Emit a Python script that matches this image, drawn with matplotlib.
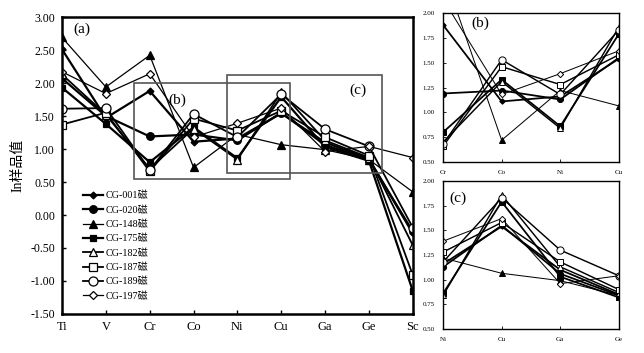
import matplotlib
matplotlib.use("Agg")
import matplotlib.pyplot as plt
from matplotlib.patches import Rectangle
import numpy as np

plt.rcParams['font.family'] = ['Liberation Serif', 'Noto Sans CJK SC']
plt.rcParams['mathtext.fontset'] = 'stix'

elements = ["Ti", "V", "Cr", "Co", "Ni", "Cu", "Ga", "Ge", "Sc"]
names = ["CG-001磁", "CG-020磁", "CG-148磁", "CG-175磁", "CG-182磁", "CG-187磁", "CG-189磁", "CG-197磁"]

cg001 = [2.51, 1.47, 1.88, 1.11, 1.16, 1.54, 1.10, 0.85, -0.28]
cg020 = [2.07, 1.50, 1.19, 1.22, 1.13, 1.55, 1.06, 0.84, -0.25]
cg148 = [2.69, 1.94, 2.42, 0.72, 1.22, 1.065, 0.99, 0.84, 0.35]
cg175 = [1.93, 1.38, 0.80, 1.33, 0.86, 1.79, 1.03, 0.82, -1.15]
cg182 = [2.13, 1.52, 0.70, 1.31, 0.84, 1.86, 1.13, 0.87, -0.46]
cg187 = [1.37, 1.55, 0.66, 1.46, 1.28, 1.58, 1.18, 0.90, -0.91]
cg189 = [1.61, 1.62, 0.68, 1.53, 1.18, 1.83, 1.30, 1.04, -0.19]
cg197 = [2.17, 1.84, 2.14, 1.18, 1.39, 1.62, 0.96, 1.04, 0.87]

series = [cg001, cg020, cg148, cg175, cg182, cg187, cg189, cg197]
styles = [
    dict(marker='D', ms=3.5, mfc='black', lw=1.6),
    dict(marker='o', ms=5.5, mfc='black', lw=1.6),
    dict(marker='^', ms=5.5, mfc='black', lw=0.9),
    dict(marker='s', ms=5, mfc='black', lw=1.6),
    dict(marker='^', ms=6, mfc='white', lw=1.3),
    dict(marker='s', ms=5.5, mfc='white', lw=1.3),
    dict(marker='o', ms=6.5, mfc='white', lw=1.3),
    dict(marker='D', ms=4, mfc='white', lw=0.9),
]

fig = plt.figure(figsize=(6.44, 3.53), dpi=100)
x = np.arange(len(elements))

ax = fig.add_axes([0.0963, 0.1105, 0.5447, 0.8413])
for name, vals, st in zip(names, series, styles):
    ax.plot(x, vals, color='black', mec='black', mew=0.9, label=name, **st)
ax.set_xlim(0, 8)
ax.set_ylim(-1.5, 3.0)
ax.set_xticks(x)
ax.set_xticklabels(elements, fontsize=9)
ax.set_yticks(np.arange(-1.5, 3.01, 0.5))
ax.set_yticklabels(["%.2f" % v for v in np.arange(-1.5, 3.01, 0.5)], fontsize=8.5)
ax.tick_params(direction='in', length=3, width=1, pad=5)
for s in ax.spines.values():
    s.set_linewidth(1.8)
ax.set_ylabel("In样品值", fontsize=10)
ax.text(0.45, 2.82, "(a)", fontsize=11, ha='center', va='center')
ax.add_patch(Rectangle((1.64, 0.55), 3.55, 1.45, fill=False, ec='#555555', lw=1.2, zorder=5))
ax.add_patch(Rectangle((3.76, 0.64), 3.53, 1.48, fill=False, ec='#555555', lw=1.2, zorder=5))
ax.text(2.62, 1.74, "(b)", fontsize=11, ha='center', va='center')
ax.text(6.74, 1.89, "(c)", fontsize=11, ha='center', va='center')
leg = ax.legend(loc='lower left', bbox_to_anchor=(0.04, 0.02), frameon=False, fontsize=7.3,
                handlelength=2.0, labelspacing=0.5, handletextpad=0.2, borderpad=0.2)

def inset(rect, idx, label, lx, ly):
    a = fig.add_axes(rect)
    xi = np.arange(len(idx))
    for vals, st in zip(series, styles):
        st2 = dict(st)
        st2['ms'] = st['ms'] * 0.8
        st2['lw'] = st['lw'] * 0.8
        a.plot(xi, [vals[i] for i in idx], color='black', mec='black', mew=0.7, **st2)
    a.set_xlim(0, len(idx) - 1)
    a.set_ylim(0.5, 2.0)
    a.set_xticks(xi)
    a.set_xticklabels([elements[i] for i in idx], fontsize=5)
    yt = np.arange(0.5, 2.01, 0.25)
    a.set_yticks(yt)
    a.set_yticklabels(["%.2f" % v for v in yt], fontsize=5)
    a.tick_params(direction='in', length=2, width=0.6, pad=6)
    for s in a.spines.values():
        s.set_linewidth(1.0)
    a.text(lx, ly, label, transform=a.transAxes, fontsize=11, ha='center', va='center')
    return a

inset([0.688, 0.541, 0.273, 0.422], [2, 3, 4, 5], "(b)", 0.21, 0.93)
inset([0.688, 0.068, 0.273, 0.419], [4, 5, 6, 7], "(c)", 0.085, 0.885)

fig.savefig("out.png", dpi=100)
